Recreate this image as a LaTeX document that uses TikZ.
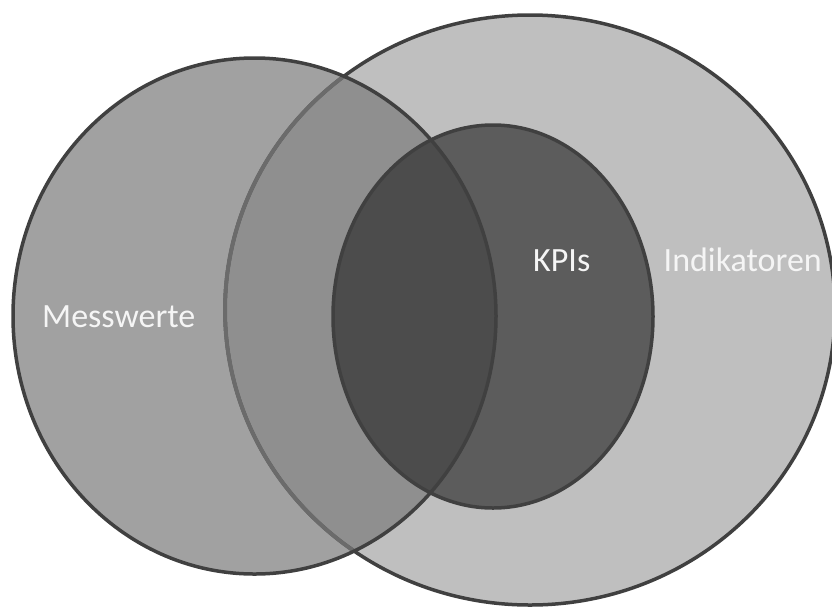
\documentclass[tikz,border=0pt]{standalone}
\usepackage{fontspec}
\setmainfont{Carlito}
\begin{document}
\begin{tikzpicture}[x=1pt,y=-1pt,
  lbl/.style={text=white!96!black,font=\fontsize{34}{40}\selectfont,inner sep=0pt},
  outline/.style={line width=3.5pt,draw=black!75}]
% three sets: measurements, indicators, KPIs
\def\measE{(254.5,316) ellipse [x radius=241.5pt, y radius=258pt]}
\def\indE{(530,310) ellipse [x radius=305pt, y radius=295pt]}
\def\kpiE{(493,316.5) ellipse [x radius=160pt, y radius=191.5pt]}
\useasboundingbox (0,0) rectangle (832,606);
% fills of the single sets
\fill[black!25] \indE;
\fill[black!37] \measE;
\begin{scope}
  \clip \measE;
  \fill[black!44] \indE;
\end{scope}
\fill[black!64] \kpiE;
\begin{scope}
  \clip \measE;
  \fill[black!70] \kpiE;
\end{scope}
% outlines
\draw[outline] \indE;
\begin{scope}
  \clip \measE;
  \draw[line width=4pt,draw=black!58] \indE;
\end{scope}
\draw[outline] \kpiE;
\draw[outline] \measE;
% labels
\node[lbl,anchor=base west] (mess) at (42,327) {Messwerte};
\node[lbl,anchor=base west] (kpi) at (533,271) {KPIs};
\node[lbl,anchor=base east] (ind) at (822,271) {Indikatoren};
\end{tikzpicture}
\end{document}
